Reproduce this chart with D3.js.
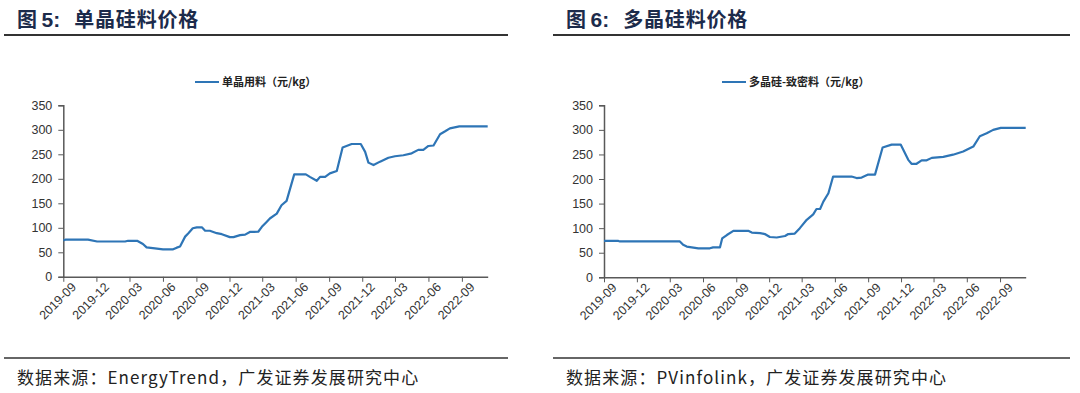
<!DOCTYPE html>
<html>
<head>
<meta charset="utf-8">
<script src="https://cdn.jsdelivr.net/npm/d3@7"></script>
<style>
  body { margin: 0; background: #fff; }
  svg text { font-family: "Liberation Sans", Arial, sans-serif; }
  .cjk { font-family: "Noto Sans CJK SC", "Noto Sans", sans-serif; }
</style>
</head>
<body>
<svg id="chart"></svg>
<script>
// single crystal material price (EnergyTrend)
const monoDates = ["2019-09-01","2019-09-08","2019-11-08","2019-12-03","2020-02-18","2020-02-26","2020-03-22","2020-04-07","2020-04-17","2020-05-10","2020-06-01","2020-06-29","2020-07-09","2020-07-18","2020-08-01","2020-08-10","2020-08-22","2020-09-02","2020-09-16","2020-09-25","2020-10-08","2020-10-27","2020-11-10","2020-12-02","2020-12-12","2020-12-30","2021-01-13","2021-01-26","2021-02-18","2021-02-28","2021-03-13","2021-03-22","2021-04-10","2021-04-23","2021-05-07","2021-05-28","2021-06-29","2021-07-10","2021-07-29","2021-08-07","2021-08-21","2021-09-03","2021-09-22","2021-10-08","2021-11-02","2021-11-27","2021-12-09","2021-12-18","2022-01-01","2022-01-19","2022-02-11","2022-03-01","2022-03-24","2022-04-16","2022-05-04","2022-05-18","2022-06-01","2022-06-15","2022-07-03","2022-07-17","2022-07-30","2022-08-25","2022-11-11"];
const monoPrices = [74,76,76,72,72,73.5,73.5,67,60,58,56,56,59.5,62,82,89,99,101,101,94,94,89,87,81,81,85,86,91.5,92,102,112,119,129,146,155,209,209,204,196,204,204,211,216,264,271,271,255,233,228,235,243,246,248,252,259,259,267,268,291,297,303,307,307];

// polysilicon dense material price (PVInfolink)
const polyDates = ["2019-09-01","2019-10-11","2019-10-15","2020-03-29","2020-04-07","2020-04-17","2020-05-10","2020-05-19","2020-06-20","2020-06-29","2020-07-18","2020-07-24","2020-08-06","2020-08-24","2020-10-04","2020-10-14","2020-11-06","2020-11-19","2020-12-03","2020-12-22","2021-01-14","2021-01-23","2021-02-10","2021-02-24","2021-03-15","2021-04-02","2021-04-11","2021-04-21","2021-04-30","2021-05-14","2021-05-27","2021-07-17","2021-07-31","2021-08-14","2021-09-01","2021-09-20","2021-10-11","2021-11-05","2021-11-30","2021-12-21","2021-12-30","2022-01-13","2022-01-27","2022-02-10","2022-02-24","2022-03-28","2022-04-24","2022-05-22","2022-06-19","2022-07-07","2022-07-26","2022-08-13","2022-09-03","2022-11-11"];
const polyPrices = [74,74,73,73,66,62.5,60,59,59,61,61,79,86,94.5,94.5,91,90,88,82,81,84,88,89,100,117,128,139,139,154,171,205,205,202,203,209,209,264,270,270,239,231,231,238,238,243,245,249.5,256,266,287,293,300,304,304];

const yTicks = [0, 50, 100, 150, 200, 250, 300, 350];
const xTickLabels = ["2019-09","2019-12","2020-03","2020-06","2020-09","2020-12","2021-03","2021-06","2021-09","2021-12","2022-03","2022-06","2022-09"];
const xStart = "2019-09-01", xEnd = "2022-11-11";

const width = 1080, height = 393;
const lineColor = "#2e75b6", axisColor = "#595959", textColor = "#333";
const parseDay = d3.timeParse("%Y-%m-%d");
const parseMonth = d3.timeParse("%Y-%m");

const svg = d3.select("#chart").attr("width", width).attr("height", height);

function drawPanel(cfg) {
  const g = svg.append("g");

  // header
  const title = g.append("text").attr("class", "cjk")
    .attr("x", cfg.left + 13).attr("y", 27)
    .attr("font-size", 20).attr("font-weight", "bold").attr("fill", "#1c2b4b");
  title.append("tspan").text("图 ");
  title.append("tspan").attr("font-family", "'Liberation Sans', Arial, sans-serif")
    .attr("font-size", 21).text(cfg.figNo + ":");
  title.append("tspan").attr("dx", 14).attr("letter-spacing", 0.8).text(cfg.title);
  g.append("line")
    .attr("x1", cfg.left).attr("x2", cfg.right).attr("y1", 35).attr("y2", 35)
    .attr("stroke", "#333").attr("stroke-width", 2);

  // footer
  g.append("line")
    .attr("x1", cfg.left).attr("x2", cfg.right).attr("y1", 358).attr("y2", 358)
    .attr("stroke", "#333").attr("stroke-width", 1.5);
  g.append("text").attr("class", "cjk")
    .attr("x", cfg.left + 13).attr("y", 384)
    .attr("font-size", 17).attr("fill", "#222").attr("letter-spacing", 1.1)
    .text(cfg.source);

  const x = d3.scaleTime()
    .domain([parseDay(xStart), parseDay(xEnd)])
    .range([cfg.x0, cfg.x1]);
  const y = d3.scaleLinear().domain([0, 350]).range([cfg.y0, cfg.y1]);

  // y axis
  const yAxis = g.append("g")
    .attr("transform", `translate(${cfg.x0},0)`)
    .call(d3.axisLeft(y).tickValues(yTicks).tickSize(5).tickPadding(6));
  yAxis.select(".domain").attr("stroke", axisColor).attr("stroke-width", 1.5);
  yAxis.selectAll(".tick line").attr("stroke", axisColor);
  yAxis.selectAll(".tick text").attr("font-size", 12.5).attr("fill", textColor)
    .attr("font-family", "'Liberation Sans', Arial, sans-serif");

  // x axis
  const xAxis = g.append("g")
    .attr("transform", `translate(0,${cfg.y0})`)
    .call(d3.axisBottom(x)
      .tickValues(xTickLabels.map(parseMonth))
      .tickFormat(d3.timeFormat("%Y-%m"))
      .tickSize(5).tickSizeOuter(0));
  xAxis.select(".domain").attr("stroke", axisColor).attr("stroke-width", 1.5);
  xAxis.selectAll(".tick line").attr("stroke", axisColor);
  xAxis.selectAll(".tick text")
    .attr("font-size", 12.5).attr("fill", textColor)
    .attr("font-family", "'Liberation Sans', Arial, sans-serif")
    .attr("text-anchor", "end")
    .attr("transform", "translate(4,2) rotate(-45)")
    .attr("dy", "0.7em").attr("y", 4).attr("x", 0);

  // legend
  g.append("line")
    .attr("x1", cfg.legendX).attr("x2", cfg.legendX + 24)
    .attr("y1", 82).attr("y2", 82)
    .attr("stroke", lineColor).attr("stroke-width", 2);
  g.append("text").attr("class", "cjk")
    .attr("x", cfg.legendX + 27).attr("y", 86)
    .attr("font-size", 11).attr("font-weight", "bold").attr("fill", "#222")
    .text(cfg.legend);

  // series
  const pts = cfg.dates.map((d, i) => [parseDay(d), cfg.values[i]]);
  g.append("path")
    .datum(pts)
    .attr("fill", "none")
    .attr("stroke", lineColor)
    .attr("stroke-width", 2.2)
    .attr("stroke-linejoin", "round")
    .attr("d", d3.line().x(d => x(d[0])).y(d => y(d[1])));
}

drawPanel({
  left: 4, right: 508,
  x0: 63.3, x1: 487.7, y0: 276.8, y1: 105.3,
  figNo: "5", title: "单晶硅料价格",
  legend: "单晶用料（元/kg）", legendX: 195,
  source: "数据来源：EnergyTrend，广发证券发展研究中心",
  dates: monoDates, values: monoPrices
});

drawPanel({
  left: 553, right: 1070,
  x0: 604, x1: 1025.7, y0: 277.3, y1: 105.3,
  figNo: "6", title: "多晶硅料价格",
  legend: "多晶硅-致密料（元/kg）", legendX: 722,
  source: "数据来源：PVinfolink，广发证券发展研究中心",
  dates: polyDates, values: polyPrices
});
</script>
</body>
</html>
